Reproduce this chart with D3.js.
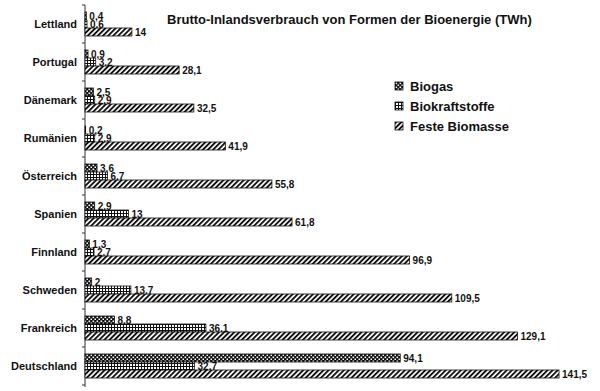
<!DOCTYPE html>
<html lang="de">
<head>
  <meta charset="UTF-8">
  <title>Bioenergie</title>
  <style>
    body { margin: 0; background: #fff; }
    text { font-family: "Liberation Sans", Arial, sans-serif; font-weight: bold; fill: #111; }
  </style>
</head>
<body>
<script src="https://cdn.jsdelivr.net/npm/d3@7/dist/d3.min.js"></script>
<script>
  var countries = ['Lettland', 'Portugal', 'Dänemark', 'Rumänien', 'Österreich', 'Spanien', 'Finnland', 'Schweden', 'Frankreich', 'Deutschland']
  var series = ['Biogas', 'Biokraftstoffe', 'Feste Biomasse']
  var biogas = [0.4, 0.9, 2.5, 0.2, 3.6, 2.9, 1.3, 2, 8.8, 94.1]
  var biokraft = [0.6, 3.2, 2.9, 2.9, 6.7, 13, 2.7, 13.7, 36.1, 32.7]
  var feste = [14, 28.1, 32.5, 41.9, 55.8, 61.8, 96.9, 109.5, 129.1, 141.5]
  var values = [biogas, biokraft, feste]

  var width = 600, height = 391
  var svg = d3.select('body').append('svg')
    .attr('width', width)
    .attr('height', height)

  // muster fuer die drei reihen
  var defs = svg.append('defs')
  var p1 = defs.append('pattern').attr('id', 'pat0')
    .attr('patternUnits', 'userSpaceOnUse').attr('width', 4).attr('height', 4)
  p1.append('rect').attr('width', 4).attr('height', 4).attr('fill', '#111')
  p1.append('rect').attr('x', 0.5).attr('y', 0.5).attr('width', 1.6).attr('height', 1.6).attr('fill', '#fff')
  p1.append('rect').attr('x', 2.5).attr('y', 2.5).attr('width', 1.6).attr('height', 1.6).attr('fill', '#fff')

  var p2 = defs.append('pattern').attr('id', 'pat1')
    .attr('patternUnits', 'userSpaceOnUse').attr('width', 3).attr('height', 3)
  p2.append('rect').attr('width', 3).attr('height', 3).attr('fill', '#fff')
  p2.append('rect').attr('width', 1).attr('height', 3).attr('fill', '#111')
  p2.append('rect').attr('width', 3).attr('height', 1).attr('fill', '#111')

  var p3 = defs.append('pattern').attr('id', 'pat2')
    .attr('patternUnits', 'userSpaceOnUse').attr('width', 3.6).attr('height', 10)
    .attr('patternTransform', 'rotate(45)')
  p3.append('rect').attr('width', 3.6).attr('height', 10).attr('fill', '#fff')
  p3.append('rect').attr('width', 1.9).attr('height', 10).attr('fill', '#111')

  var x = d3.scaleLinear()
    .domain([0, 150])
    .range([85, 85 + 150 * 3.35])

  var y = d3.scaleBand()
    .domain(countries)
    .range([5, 385])

  var inner = d3.scaleBand()
    .domain(series)
    .range([7, 31])

  // achse
  svg.append('line')
    .attr('x1', x(0)).attr('x2', x(0))
    .attr('y1', 5).attr('y2', 387)
    .attr('stroke', '#333')
  svg.append('g').selectAll('line')
    .data(countries.concat(['end']))
    .enter()
    .append('line')
    .attr('x1', x(0) - 3).attr('x2', x(0))
    .attr('y1', d => d === 'end' ? 385 : y(d))
    .attr('y2', d => d === 'end' ? 385 : y(d))
    .attr('stroke', '#333')

  var yAxis = d3.axisLeft(y).tickSize(0).tickPadding(8)
  var ag = svg.append('g')
    .attr('transform', `translate(${x(0)},0)`)
    .call(yAxis)
  ag.select('.domain').remove()
  ag.selectAll('text')
    .style('font-family', '"Liberation Sans", Arial, sans-serif')
    .style('font-weight', 'bold')
    .style('font-size', '11px')
    .attr('fill', '#111')

  // balken
  series.forEach(function (s, si) {
    var g = svg.append('g')
    g.selectAll('rect')
      .data(values[si])
      .enter()
      .append('rect')
      .attr('x', x(0))
      .attr('y', (d, i) => y(countries[i]) + inner(s))
      .attr('width', d => x(d) - x(0))
      .attr('height', inner.bandwidth())
      .attr('fill', 'url(#pat' + si + ')')
      .attr('stroke', '#111')
      .attr('stroke-width', 0.8)
    g.selectAll('text')
      .data(values[si])
      .enter()
      .append('text')
      .attr('x', d => x(d) + 3)
      .attr('y', (d, i) => y(countries[i]) + inner(s) + inner.bandwidth() / 2)
      .attr('dy', '0.35em')
      .style('font-size', '10px')
      .text(d => String(d).replace('.', ','))
  })

  // titel
  svg.append('text')
    .attr('x', 167).attr('y', 24)
    .style('font-size', '13px')
    .text('Brutto-Inlandsverbrauch von Formen der Bioenergie (TWh)')

  // legende
  var leg = svg.append('g').selectAll('g')
    .data(series)
    .enter()
    .append('g')
    .attr('transform', (d, i) => `translate(395,${82 + i * 20})`)
  leg.append('rect')
    .attr('width', 8).attr('height', 8)
    .attr('fill', (d, i) => 'url(#pat' + i + ')')
    .attr('stroke', '#111')
    .attr('stroke-width', 0.8)
  leg.append('text')
    .attr('x', 15).attr('y', 8.5)
    .style('font-size', '13px')
    .text(d => d)
</script>
</body>
</html>
